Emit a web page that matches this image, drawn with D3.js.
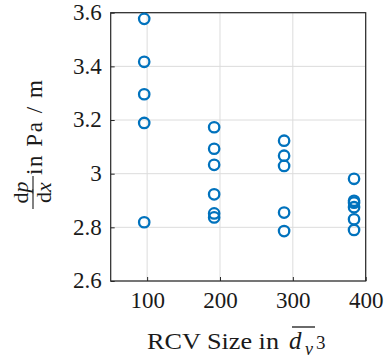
<!DOCTYPE html>
<html><head><meta charset="utf-8">
<script src="https://cdn.jsdelivr.net/npm/d3@7"></script>
<style>body{margin:0;background:#fff}svg{display:block}</style>
</head><body>
<script>
const xs = [96, 96, 96, 96, 96,
            192, 192, 192, 192, 192, 192,
            288, 288, 288, 288, 288,
            384, 384, 384, 384, 384, 384];
const ys = [3.577, 3.417, 3.296, 3.189, 2.819,
            3.173, 3.093, 3.033, 2.923, 2.852, 2.837,
            3.123, 3.067, 3.029, 2.855, 2.786,
            2.981, 2.899, 2.892, 2.875, 2.830, 2.790];
const xTicks = [100, 200, 300, 400];
const yTicks = [2.6, 2.8, 3.0, 3.2, 3.4, 3.6];

const W = 384, H = 361;
const L = 110.7, R = 365.7, T = 12.7, B = 281;
const svg = d3.select("body").append("svg").attr("width", W).attr("height", H);
const x = d3.scaleLinear().domain([50, 400]).range([L, R]);
const y = d3.scaleLinear().domain([2.6, 3.6]).range([B, T]);
const font = '"Liberation Serif"';
const txt = "#1a1a1a";

// grid
svg.append("g").selectAll("line").data(xTicks).join("line")
  .attr("x1", d => x(d)).attr("x2", d => x(d)).attr("y1", T).attr("y2", B)
  .attr("stroke", "#dcdcdc").attr("stroke-width", 1);
svg.append("g").selectAll("line").data(yTicks).join("line")
  .attr("y1", d => y(d)).attr("y2", d => y(d)).attr("x1", L).attr("x2", R)
  .attr("stroke", "#dcdcdc").attr("stroke-width", 1);

// axes
const xAxis = d3.axisBottom(x).tickValues(xTicks).tickSizeInner(-4).tickSizeOuter(0).tickPadding(11).tickFormat(d3.format("d"));
const yAxis = d3.axisLeft(y).tickValues(yTicks).tickSizeInner(-4).tickSizeOuter(0).tickPadding(9)
  .tickFormat(d => d === 3 ? "3" : d3.format(".1f")(d));
const gx = svg.append("g").attr("transform", `translate(0,${B})`).call(xAxis);
const gy = svg.append("g").attr("transform", `translate(${L},0)`).call(yAxis);
[gx, gy].forEach(g => {
  g.attr("font-family", null);
  g.select(".domain").remove();
  g.selectAll(".tick line").attr("stroke", "#262626");
  g.selectAll("text").style("font-family", font).style("font-size", "23px").attr("fill", txt);
});
gy.selectAll("text").attr("dy", "0.3em");

// box
svg.append("rect").attr("x", L).attr("y", T).attr("width", R - L).attr("height", B - T)
  .attr("fill", "none").attr("stroke", "#262626").attr("stroke-width", 1.2);

// points
svg.append("g").selectAll("circle").data(xs.map((d, i) => [d, ys[i]])).join("circle")
  .attr("cx", d => x(d[0])).attr("cy", d => y(d[1])).attr("r", 5.2)
  .attr("fill", "none").attr("stroke", "#0072BD").attr("stroke-width", 2.3);

// x label
function T_(sel, xx, yy, s, size, italic) {
  return sel.append("text").attr("x", xx).attr("y", yy)
    .style("font-family", font).style("font-size", size + "px")
    .style("font-style", italic ? "italic" : "normal").attr("fill", txt).text(s);
}
T_(svg, 147, 349, "RCV Size in", 24).attr("textLength", 132).attr("lengthAdjust", "spacingAndGlyphs");
T_(svg, 289, 349, "d", 25, true);
T_(svg, 305, 355, "v", 18, true);
T_(svg, 316, 349, "3", 19);
svg.append("line").attr("x1", 292).attr("x2", 315).attr("y1", 327).attr("y2", 327)
  .attr("stroke", txt).attr("stroke-width", 1.3);

// y label (fraction), rotated
const gl = svg.append("g").attr("transform", "rotate(-90)");
T_(gl, -175, 42, "in Pa / m", 23).attr("textLength", 95).attr("lengthAdjust", "spacing");
const num = gl.append("text").attr("x", -192.5).attr("y", 28).attr("text-anchor", "middle")
  .style("font-family", font).style("font-size", "22px").attr("fill", txt);
num.append("tspan").text("d");
num.append("tspan").style("font-style", "italic").text("p");
const den = gl.append("text").attr("x", -192.5).attr("y", 51).attr("text-anchor", "middle")
  .style("font-family", font).style("font-size", "22px").attr("fill", txt);
den.append("tspan").text("d");
den.append("tspan").style("font-style", "italic").text("x");
gl.append("line").attr("x1", -209).attr("x2", -176).attr("y1", 33).attr("y2", 33)
  .attr("stroke", txt).attr("stroke-width", 1.1);
</script>
</body></html>
